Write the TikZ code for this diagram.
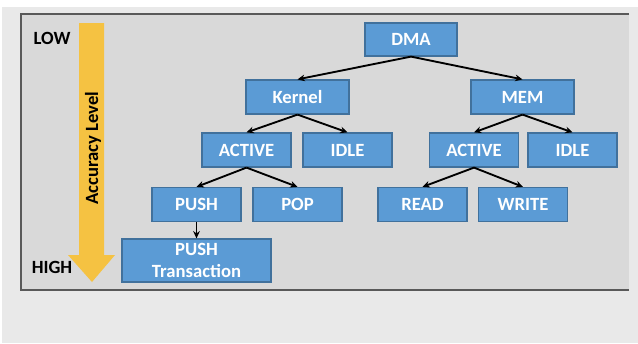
\documentclass[tikz,border=0pt]{standalone}
\usepackage{fontspec}
\setmainfont{Carlito}
\usetikzlibrary{arrows.meta}
\definecolor{boxblue}{RGB}{91,155,213}
\definecolor{boxedge}{RGB}{65,113,156}
\definecolor{levelyellow}{RGB}{245,194,66}
\definecolor{panelgray}{RGB}{217,217,217}
\definecolor{pagegray}{RGB}{233,233,233}
\tikzset{
	state/.style={draw=boxedge, line width=0.9pt, fill=boxblue, text=white, font=\fontsize{14}{16.5}\selectfont\bfseries,
		minimum width=66.75pt, minimum height=25.5pt, inner sep=0pt, align=center},
	widestate/.style={state, minimum width=77.25pt},
	tag/.style={font=\fontsize{14}{16.5}\selectfont\bfseries, text=black, inner sep=0pt},
	link/.style={-{Stealth[length=5.5pt,width=5pt]}, line width=1.4pt}
}
\begin{document}
\begin{tikzpicture}[x=0.75pt,y=-0.75pt]
	\useasboundingbox (0,0) rectangle (638,343);
	\fill[white] (0,0) rectangle (638,343);
	\fill[pagegray] (2,7) rectangle (638,343);
	\fill[panelgray] (21,14) rectangle (629,290);
	\draw[line width=1.4pt, black!65] (629,14) -- (21,14) -- (21,290) -- (629,290);
	% accuracy scale
	\fill[levelyellow] (79,23) -- (104,23) -- (104,255) -- (115,255) -- (92,282) -- (68,255) -- (79,255) -- cycle;
	\node[tag, rotate=90] (acc) at (93,148) {Accuracy Level};
	\node[tag] (low) at (52,38.5) {LOW};
	\node[tag] (high) at (52,267) {HIGH};
	% tree
	\node[state, minimum width=69pt, minimum height=24.75pt] (dma) at (411,39.5) {DMA};
	\node[widestate] (kernel) at (297.5,97) {Kernel};
	\node[widestate] (mem) at (522.5,97) {MEM};
	\node[state] (kactive) at (246.5,150) {ACTIVE};
	\node[state] (kidle) at (347.5,150) {IDLE};
	\node[state] (mactive) at (474,150) {ACTIVE};
	\node[state] (midle) at (572.5,150) {IDLE};
	\node[state] (push) at (196.5,204.5) {PUSH};
	\node[state] (pop) at (297.5,204.5) {POP};
	\node[state] (read) at (422.5,204.5) {READ};
	\node[state] (write) at (523,204.5) {WRITE};
	\node[state, minimum width=111.75pt, minimum height=32.25pt] (trans) at (196.5,260.5) {PUSH\\Transaction};
	\draw[link] (dma.south) -- (kernel.north);
	\draw[link] (dma.south) -- (mem.north);
	\draw[link] (kernel.south) -- (kactive.north);
	\draw[link] (kernel.south) -- (kidle.north);
	\draw[link] (mem.south) -- (mactive.north);
	\draw[link] (mem.south) -- (midle.north);
	\draw[link] (kactive.south) -- (push.north);
	\draw[link] (kactive.south) -- (pop.north);
	\draw[link] (mactive.south) -- (read.north);
	\draw[link] (mactive.south) -- (write.north);
	\draw[link] (push.south) -- (trans.north);
\end{tikzpicture}
\end{document}
